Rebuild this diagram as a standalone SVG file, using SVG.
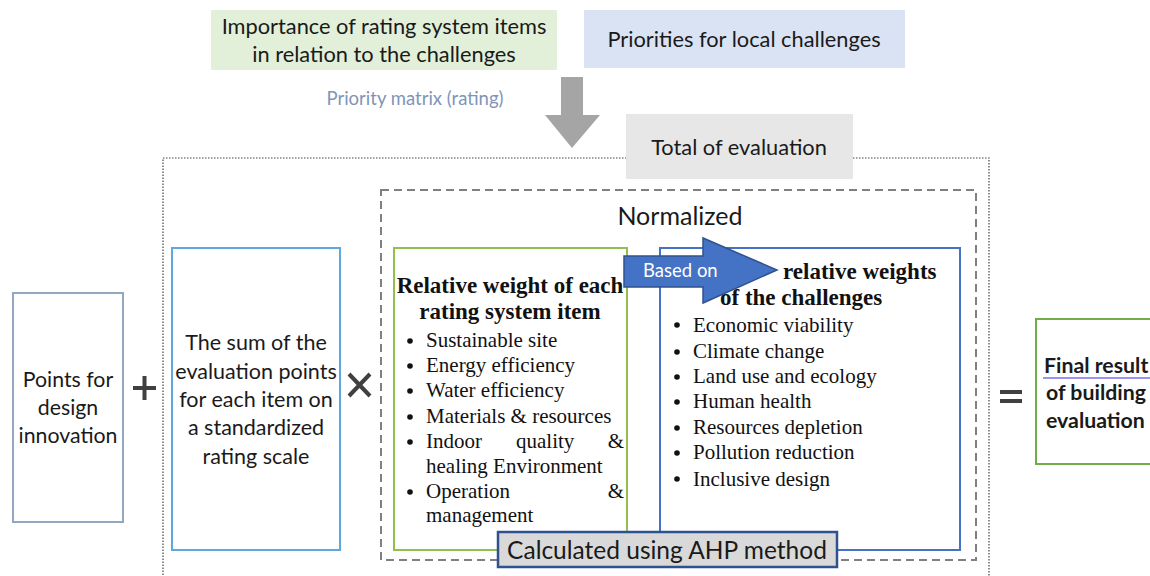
<svg xmlns="http://www.w3.org/2000/svg" width="1150" height="576" viewBox="0 0 1150 576">
  <style>
    .sans { font-family: Lato, "Open Sans", "Liberation Sans", sans-serif; fill: #1a1a1a; }
    .serif { font-family: "Liberation Serif", "Times New Roman", serif; fill: #111; }
    .c { text-anchor: middle; }
    .title { font-weight: bold; font-size: 23px; }
    .item { font-size: 21px; }
    .op { fill: none; stroke: #404040; stroke-width: 4; }
  </style>

  <!-- inputs at the top -->
  <g id="node-importance">
    <rect x="211" y="10" width="346" height="60" fill="#e2efd9"/>
    <text class="sans c" x="384" y="34" font-size="21.8">Importance of rating system items</text>
    <text class="sans c" x="384" y="62" font-size="21.8">in relation to the challenges</text>
  </g>
  <g id="node-priorities">
    <rect x="584" y="10" width="321" height="58" fill="#dae3f3"/>
    <text class="sans c" x="744" y="47" font-size="21.8">Priorities for local challenges</text>
  </g>
  <g id="label-priority-matrix">
    <text class="sans c" x="415" y="105" font-size="18.5" style="fill:#7f95b7">Priority matrix (rating)</text>
  </g>

  <!-- evaluation frame -->
  <g id="frame-total">
    <rect x="163" y="158" width="826" height="440" fill="none" stroke="#444" stroke-width="1.2" stroke-dasharray="1.5,1.5"/>
  </g>
  <g id="node-total">
    <rect x="626" y="114" width="227" height="65" fill="#e7e7e7"/>
    <text class="sans c" x="739" y="155" font-size="21.8">Total of evaluation</text>
  </g>
  <g id="frame-normalized">
    <rect x="381" y="190" width="595" height="370" fill="none" stroke="#808080" stroke-width="2" stroke-dasharray="8,5"/>
    <text class="sans c" x="680" y="225" font-size="25">Normalized</text>
  </g>

  <!-- connectors -->
  <g id="connectors">
    <polygon points="561,77 583,77 583,115 600,115 572,148 545,115 561,115" fill="#a5a5a5"/>
    <path class="op" d="M133,388 H156 M144.5,376 V400"/>
    <path class="op" d="M349,374 L370,396 M370,374 L349,396" stroke-width="3"/>
    <path class="op" d="M1000,392 H1022 M1000,401 H1022" stroke-width="3"/>
  </g>

  <g id="node-design-innovation">
    <rect x="13" y="293" width="110" height="229" fill="#fff" stroke="#93a6c2" stroke-width="2"/>
    <text class="sans c" x="68" y="387" font-size="21.3">Points for</text>
    <text class="sans c" x="68" y="415" font-size="21.3">design</text>
    <text class="sans c" x="68" y="443" font-size="21.3">innovation</text>
  </g>

  <g id="node-sum">
    <rect x="172" y="248" width="168" height="302" fill="#fff" stroke="#5ea7df" stroke-width="2"/>
    <text class="sans c" x="256" y="350" font-size="21.5">The sum of the</text>
    <text class="sans c" x="256" y="379" font-size="21.5">evaluation points</text>
    <text class="sans c" x="256" y="407" font-size="21.5">for each item on</text>
    <text class="sans c" x="256" y="435" font-size="21.5">a standardized</text>
    <text class="sans c" x="256" y="464" font-size="21.5">rating scale</text>
  </g>

  <g id="node-item-weights">
    <rect x="394" y="248" width="233" height="302" fill="#fff" stroke="#92c050" stroke-width="2"/>
    <text class="serif c title" x="510" y="293">Relative weight of each</text>
    <text class="serif c title" x="510" y="319">rating system item</text>
    <g fill="#111">
      <circle cx="410" cy="341" r="2.8"/>
      <circle cx="410" cy="366" r="2.8"/>
      <circle cx="410" cy="391" r="2.8"/>
      <circle cx="410" cy="417" r="2.8"/>
      <circle cx="410" cy="442" r="2.8"/>
      <circle cx="410" cy="492" r="2.8"/>
    </g>
    <text class="serif item" x="426" y="347">Sustainable site</text>
    <text class="serif item" x="426" y="372">Energy efficiency</text>
    <text class="serif item" x="426" y="397">Water efficiency</text>
    <text class="serif item" x="426" y="423">Materials &amp; resources</text>
    <text class="serif item" x="426" y="448">Indoor</text>
    <text class="serif item" x="516" y="448">quality</text>
    <text class="serif item" x="624" y="448" text-anchor="end">&amp;</text>
    <text class="serif item" x="426" y="473">healing Environment</text>
    <text class="serif item" x="426" y="498">Operation</text>
    <text class="serif item" x="624" y="498" text-anchor="end">&amp;</text>
    <text class="serif item" x="426" y="522">management</text>
  </g>

  <g id="node-challenge-weights">
    <rect x="660" y="248" width="300" height="302" fill="#fff" stroke="#4472c4" stroke-width="2"/>
    <text class="serif title" x="783" y="279">relative weights</text>
    <text class="serif title" x="720" y="305">of the challenges</text>
    <g fill="#111">
      <circle cx="677" cy="325" r="2.8"/>
      <circle cx="677" cy="352" r="2.8"/>
      <circle cx="677" cy="377" r="2.8"/>
      <circle cx="677" cy="402" r="2.8"/>
      <circle cx="677" cy="428" r="2.8"/>
      <circle cx="677" cy="453" r="2.8"/>
      <circle cx="677" cy="479" r="2.8"/>
    </g>
    <text class="serif item" x="693" y="332">Economic viability</text>
    <text class="serif item" x="693" y="358">Climate change</text>
    <text class="serif item" x="693" y="383">Land use and ecology</text>
    <text class="serif item" x="693" y="408">Human health</text>
    <text class="serif item" x="693" y="434">Resources depletion</text>
    <text class="serif item" x="693" y="459">Pollution reduction</text>
    <text class="serif item" x="693" y="486">Inclusive design</text>
  </g>

  <g id="node-based-on">
    <polygon points="624,256 703,256 703,238 777,270 703,303 703,287 624,287" fill="#4472c4" stroke="#2f528f" stroke-width="1.5"/>
    <text class="sans" x="643" y="277" font-size="18.5" style="fill:#fff">Based on</text>
  </g>

  <g id="node-ahp">
    <rect x="498" y="532" width="339" height="35" fill="#d9d9d9" stroke="#2f528f" stroke-width="2.5"/>
    <text class="sans c" x="667" y="559" font-size="24.5">Calculated using AHP method</text>
  </g>

  <g id="node-final">
    <rect x="1036" y="319" width="130" height="145" fill="#fff" stroke="#70ad47" stroke-width="2"/>
    <text class="sans" x="1044" y="373" font-size="21.3" font-weight="bold">Final result</text>
    <line x1="1043" y1="378" x2="1150" y2="378" stroke="#7b6cf0" stroke-width="1.5"/>
    <text class="sans" x="1046" y="400" font-size="21.3" font-weight="bold">of building</text>
    <text class="sans" x="1046" y="428" font-size="21.3" font-weight="bold">evaluation</text>
  </g>
</svg>
